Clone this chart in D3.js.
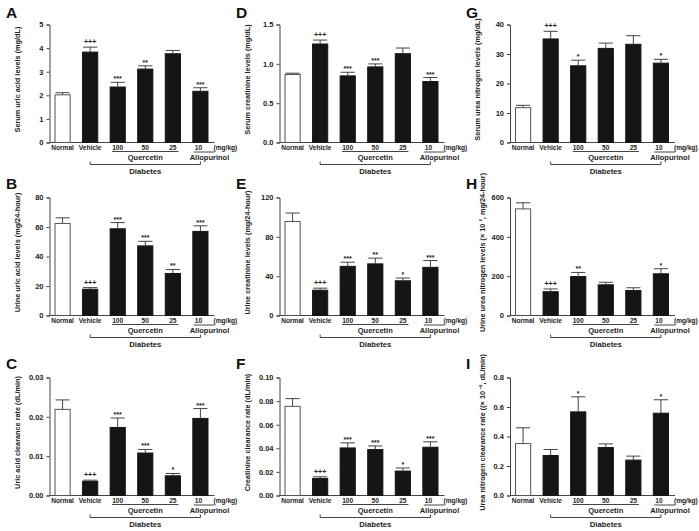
<!DOCTYPE html>
<html>
<head>
<meta charset="utf-8">
<script src="https://cdn.jsdelivr.net/npm/d3@7"></script>
<style>
  html, body { margin: 0; padding: 0; background: #fff; }
  svg { display: block; font-family: "Liberation Sans", Arial, sans-serif; }
</style>
</head>
<body>
<svg id="chart" width="699" height="531"></svg>
<script>
// ---------- data ----------
const categories = ["Normal", "Vehicle", "100", "50", "25", "10"];

// A: Serum uric acid
const serumUricMean = [2.02, 3.83, 2.35, 3.11, 3.76, 2.17];
const serumUricErr  = [0.09, 0.21, 0.20, 0.14, 0.14, 0.15];
const serumUricSig  = ["", "+++", "***", "**", "", "***"];
const serumUricTicks = [0, 1, 2, 3, 4, 5];

// B: Urine uric acid
const urineUricMean = [62.4, 17.8, 58.8, 47.2, 28.5, 57.0];
const urineUricErr  = [3.8, 1.1, 4.2, 3.1, 2.7, 3.8];
const urineUricSig  = ["", "+++", "***", "***", "**", "***"];
const urineUricTicks = [0, 20, 40, 60, 80];

// C: Uric acid clearance
const uricClearMean = [0.0219, 0.0036, 0.0173, 0.0108, 0.0050, 0.0196];
const uricClearErr  = [0.0024, 0.0003, 0.0024, 0.0009, 0.0006, 0.0025];
const uricClearSig  = ["", "+++", "***", "***", "*", "***"];
const uricClearTicks = [0, 0.01, 0.02, 0.03];

// D: Serum creatinine
const serumCreatMean = [0.864, 1.252, 0.847, 0.961, 1.129, 0.775];
const serumCreatErr  = [0.017, 0.050, 0.046, 0.038, 0.072, 0.051];
const serumCreatSig  = ["", "+++", "***", "***", "", "***"];
const serumCreatTicks = [0, 0.5, 1.0, 1.5];

// E: Urine creatinine
const urineCreatMean = [95.6, 25.7, 50.0, 52.5, 35.3, 49.0];
const urineCreatErr  = [8.6, 2.1, 4.2, 5.8, 2.8, 6.9];
const urineCreatSig  = ["", "+++", "***", "**", "*", "***"];
const urineCreatTicks = [0, 40, 80, 120];

// F: Creatinine clearance
const creatClearMean = [0.0756, 0.0145, 0.0403, 0.0389, 0.0207, 0.0409];
const creatClearErr  = [0.0065, 0.0014, 0.0043, 0.0031, 0.0026, 0.0046];
const creatClearSig  = ["", "+++", "***", "***", "*", "***"];
const creatClearTicks = [0, 0.02, 0.04, 0.06, 0.08, 0.10];

// G: Serum urea nitrogen
const serumBunMean = [11.8, 35.1, 26.0, 31.9, 33.3, 26.9];
const serumBunErr  = [0.8, 2.6, 1.9, 1.8, 2.9, 1.3];
const serumBunSig  = ["", "+++", "*", "", "", "*"];
const serumBunTicks = [0, 10, 20, 30, 40];

// H: Urine urea nitrogen
const urineBunMean = [542, 121, 198, 156, 127, 212];
const urineBunErr  = [31, 14, 21, 13, 14, 26];
const urineBunSig  = ["", "+++", "**", "", "", "*"];
const urineBunTicks = [0, 200, 400, 600];

// I: Urea nitrogen clearance
const bunClearMean = [0.352, 0.271, 0.567, 0.325, 0.240, 0.558];
const bunClearErr  = [0.107, 0.041, 0.102, 0.025, 0.027, 0.091];
const bunClearSig  = ["", "", "*", "", "", "*"];
const bunClearTicks = [0, 0.2, 0.4, 0.6, 0.8];

const panelLetters = ["A", "B", "C", "D", "E", "F", "G", "H", "I"];
const panelTitles = [
  "Serum uric acid levels (mg/dL)",
  "Urine uric acid levels (mg/24-hour)",
  "Uric acid clearance rate (dL/min)",
  "Serum creatinine levels (mg/dL)",
  "Urine creatinine levels (mg/24-hour)",
  "Creatinine clearance rate (dL/min)",
  "Serum urea nitrogen levels (mg/dL)",
  "Urine urea nitrogen levels (\u00d7 10 \u00b2, mg/24-hour)",
  "Urea nitrogen clearance rate ((\u00d7 10 \u207b\u00b2, dL/min)"
];

// ---------- panels ----------
const panels = [
  {mean: serumUricMean, err: serumUricErr, sig: serumUricSig, ticks: serumUricTicks, fmt: d3.format("d")},
  {mean: urineUricMean, err: urineUricErr, sig: urineUricSig, ticks: urineUricTicks, fmt: d3.format("d")},
  {mean: uricClearMean, err: uricClearErr, sig: uricClearSig, ticks: uricClearTicks, fmt: d3.format(".2f")},
  {mean: serumCreatMean, err: serumCreatErr, sig: serumCreatSig, ticks: serumCreatTicks, fmt: d3.format(".1f")},
  {mean: urineCreatMean, err: urineCreatErr, sig: urineCreatSig, ticks: urineCreatTicks, fmt: d3.format("d")},
  {mean: creatClearMean, err: creatClearErr, sig: creatClearSig, ticks: creatClearTicks, fmt: d3.format(".2f")},
  {mean: serumBunMean, err: serumBunErr, sig: serumBunSig, ticks: serumBunTicks, fmt: d3.format("d")},
  {mean: urineBunMean, err: urineBunErr, sig: urineBunSig, ticks: urineBunTicks, fmt: d3.format("d")},
  {mean: bunClearMean, err: bunClearErr, sig: bunClearSig, ticks: bunClearTicks, fmt: d3.format(".1f")}
].map((p, i) => Object.assign(p, {letter: panelLetters[i], title: panelTitles[i]}));

// ---------- layout ----------
const colAxisX = [49.5, 279.5, 510];
const rowTop = [24.5, 197.5, 377.5];
const plotH = 118;
const plotW = 164;
const letterY = [18, 189, 369];
const letterX = [6, 236, 466];
const titleOffset = [-30, -30, -30, -30, -30, -30, -30, -25, -25];

const svg = d3.select("#chart");

panels.forEach((p, i) => {
  const col = Math.floor(i / 3), row = i % 3;
  const ax = colAxisX[col], top = rowTop[row], bottom = top + plotH;

  const x = d3.scaleBand().domain(categories).range([ax, ax + plotW])
    .paddingInner(0.45).paddingOuter(0.2);
  const y = d3.scaleLinear().domain([p.ticks[0], p.ticks[p.ticks.length - 1]]).range([bottom, top]);
  const bw = x.bandwidth();

  const g = svg.append("g");

  // letter
  svg.append("text").attr("x", letterX[col]).attr("y", letterY[row])
    .attr("font-size", 15.5).attr("font-weight", "bold").attr("fill", "#111")
    .text(p.letter);

  // y axis
  const yAxis = d3.axisLeft(y).tickValues(p.ticks).tickFormat(p.fmt).tickSize(3).tickPadding(3);
  const ya = g.append("g").attr("transform", `translate(${ax},0)`).call(yAxis);
  ya.select(".domain").attr("stroke", "#444");
  ya.selectAll(".tick line").attr("stroke", "#444");
  ya.selectAll(".tick text").attr("font-size", 7.5).attr("font-weight", "bold")
    .attr("fill", "#222").attr("font-family", "Liberation Sans, Arial, sans-serif");

  // x axis line
  g.append("line").attr("x1", ax).attr("x2", ax + plotW + 1)
    .attr("y1", bottom).attr("y2", bottom).attr("stroke", "#444");

  // y title
  g.append("text")
    .attr("transform", `translate(${ax + titleOffset[i]},${(top + bottom) / 2 - 4}) rotate(-90)`)
    .attr("text-anchor", "middle").attr("font-size", 7.3).attr("font-weight", "bold").attr("fill", "#222")
    .text(p.title);

  // bars
  const rows = categories.map((c, k) => ({c, v: p.mean[k], e: p.err[k], s: p.sig[k]}));
  g.selectAll("rect.bar").data(rows).join("rect")
    .attr("x", d => x(d.c)).attr("width", bw)
    .attr("y", d => y(d.v)).attr("height", d => bottom - y(d.v))
    .attr("fill", (d, k) => k === 0 ? "#fff" : "#151515")
    .attr("stroke", (d, k) => k === 0 ? "#555" : "#151515")
    .attr("stroke-width", 1);

  // error bars (upper)
  g.selectAll("line.eb").data(rows).join("line")
    .attr("x1", d => x(d.c) + bw / 2).attr("x2", d => x(d.c) + bw / 2)
    .attr("y1", d => y(d.v)).attr("y2", d => y(d.v + d.e))
    .attr("stroke", "#444").attr("stroke-width", 1);
  g.selectAll("line.cap").data(rows).join("line")
    .attr("x1", d => x(d.c) + 0.5).attr("x2", d => x(d.c) + bw - 0.5)
    .attr("y1", d => y(d.v + d.e)).attr("y2", d => y(d.v + d.e))
    .attr("stroke", "#444").attr("stroke-width", 1);

  // significance marks
  g.selectAll("text.sig").data(rows.filter(d => d.s)).join("text")
    .attr("x", d => x(d.c) + bw / 2)
    .attr("y", d => y(d.v + d.e) + (d.s[0] === "+" ? -3 : -1))
    .attr("text-anchor", "middle").attr("font-size", 7).attr("font-weight", "bold").attr("fill", "#222")
    .text(d => d.s);

  // category labels
  const labY = bottom + 7.5;
  g.selectAll("text.cat").data(categories).join("text")
    .attr("x", (c, k) => x(c) + bw / 2 - (k === 5 ? 2 : 0))
    .attr("y", labY).attr("text-anchor", "middle")
    .attr("font-size", 6.6).attr("font-weight", "bold").attr("fill", "#222")
    .text(c => c);
  g.append("text").attr("x", ax + plotW).attr("y", labY)
    .attr("font-size", 6.6).attr("font-weight", "bold").attr("fill", "#222").text("(mg/kg)");

  // Quercetin group
  const q1 = x("100") + 2, q2 = x("25") + bw - 2;
  g.append("line").attr("x1", q1).attr("x2", q2).attr("y1", bottom + 9).attr("y2", bottom + 9)
    .attr("stroke", "#444");
  g.append("text").attr("x", (q1 + q2) / 2).attr("y", bottom + 17)
    .attr("text-anchor", "middle").attr("font-size", 7.5).attr("font-weight", "bold").attr("fill", "#222")
    .text("Quercetin");

  // Allopurinol group
  const a1 = x("10") + 1, a2 = ax + plotW + 1;
  g.append("line").attr("x1", a1).attr("x2", a2).attr("y1", bottom + 9.5).attr("y2", bottom + 9.5)
    .attr("stroke", "#444");
  g.append("text").attr("x", ax + 160).attr("y", bottom + 17.5)
    .attr("text-anchor", "middle").attr("font-size", 7.5).attr("font-weight", "bold").attr("fill", "#222")
    .text("Allopurinol");

  // Diabetes bracket
  const d1 = x("Vehicle") + bw / 2, d2 = x("10") + bw / 2, dy = bottom + 22;
  g.append("path").attr("d", `M${d1},${dy - 3}V${dy}H${d2}V${dy - 3}`)
    .attr("fill", "none").attr("stroke", "#444");
  g.append("text").attr("x", (d1 + d2) / 2).attr("y", bottom + 31.5)
    .attr("text-anchor", "middle").attr("font-size", 7.7).attr("font-weight", "bold").attr("fill", "#222")
    .text("Diabetes");
});
</script>
</body>
</html>
